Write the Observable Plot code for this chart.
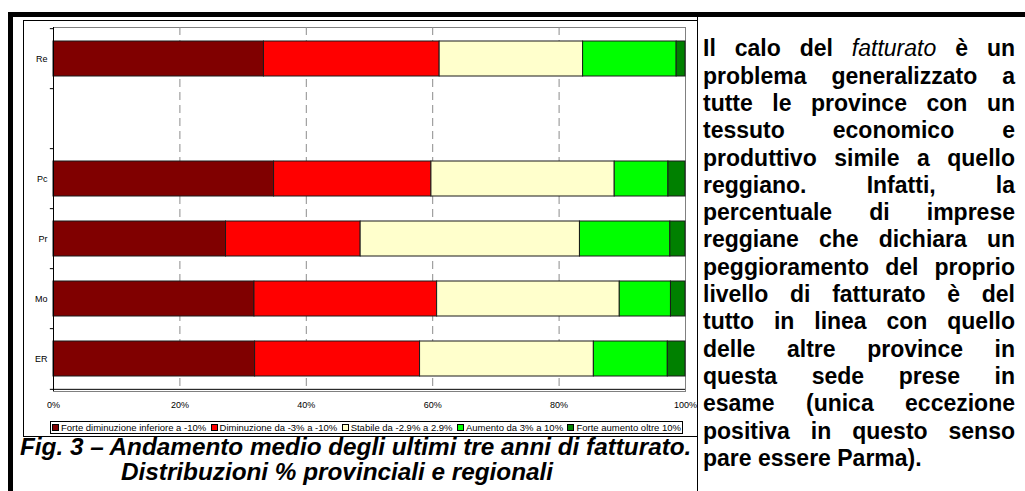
<!DOCTYPE html>
<html>
<head>
<meta charset="utf-8">
<script src="https://cdn.jsdelivr.net/npm/d3@7"></script>
<script src="https://cdn.jsdelivr.net/npm/@observablehq/plot@0.6"></script>
<style>
  html, body { margin: 0; padding: 0; background: #fff; }
  body { width: 1025px; height: 491px; position: relative; overflow: hidden;
         font-family: "Liberation Sans", Arial, sans-serif; color: #000; }
  #topbar { position: absolute; left: 8px; top: 12px; width: 1017px; height: 5px; background: #000; }
  #leftbar { position: absolute; left: 8px; top: 12px; width: 5px; height: 479px; background: #000; }
  #cellline { position: absolute; left: 697px; top: 17px; width: 1px; height: 474px; background: #000; }
  #frame { position: absolute; left: 23px; top: 20px; width: 673px; height: 415px; border: 1px solid #000; }
  #chart { position: absolute; left: 23px; top: 20px; }
  #chart svg { overflow: visible; }
  #legend { position: absolute; left: 50px; top: 421px; width: 629px; height: 11px; border: 1px solid #000;
            display: flex; justify-content: space-between; align-items: center; padding: 0 1px;
            font-size: 9.5px; line-height: 11px; white-space: nowrap; }
  #legend .item { display: flex; align-items: center; }
  #legend .sw { width: 5px; height: 5px; border: 1px solid #000; margin-right: 2px; }
  .cap { position: absolute; font-weight: bold; font-style: italic; font-size: 24.3px; line-height: 24px; white-space: nowrap; }
  #text { position: absolute; left: 703px; top: 35.4px; width: 312px; font-weight: bold; font-size: 23px; line-height: 27.3px; }
  #text div { text-align: justify; text-align-last: justify; white-space: nowrap; }
  #text div.last { text-align-last: left; }
  #text i { font-weight: normal; }
</style>
</head>
<body>
<div id="topbar"></div>
<div id="leftbar"></div>
<div id="cellline"></div>
<div id="frame"></div>
<div id="chart"></div>
<div id="legend"></div>
<div class="cap" id="cap1" style="left:20px; top:434.7px;"></div>
<div class="cap" id="cap2" style="left:121px; top:459.7px;"></div>
<div id="text"></div>
<script>
// ---- data ----
const provinces = ["Re", "Pc", "Pr", "Mo", "ER"];
const yCategories = ["Re", " ", "Pc", "Pr", "Mo", "ER"];
const series = [
  "Forte diminuzione inferiore a -10%",
  "Diminuzione da -3% a -10%",
  "Stabile da -2.9% a 2.9%",
  "Aumento da 3% a 10%",
  "Forte aumento oltre 10%"
];
const seriesColors = ["#800000", "#ff0000", "#ffffcc", "#00ff00", "#008000"];
const forteDiminuzione = [33.3, 34.9, 27.3, 31.8, 31.9];
const diminuzione      = [27.8, 24.9, 21.3, 28.9, 26.1];
const stabile          = [22.7, 29.0, 34.7, 28.9, 27.5];
const aumento          = [14.8, 8.5, 14.3, 8.1, 11.7];
const forteAumento     = [1.4, 2.7, 2.4, 2.3, 2.8];
const xTicks = [0, 20, 40, 60, 80, 100];
const xTickLabels = ["0%", "20%", "40%", "60%", "80%", "100%"];
const captionLines = [
  "Fig. 3 – Andamento medio degli ultimi tre anni di fatturato.",
  "Distribuzioni % provinciali e regionali"
];
const textLines = [
  'Il calo del <i>fatturato</i> è un',
  'problema generalizzato a',
  'tutte le province con un',
  'tessuto economico e',
  'produttivo simile a quello',
  'reggiano. Infatti, la',
  'percentuale di imprese',
  'reggiane che dichiara un',
  'peggioramento del proprio',
  'livello di fatturato è del',
  'tutto in linea con quello',
  'delle altre province in',
  'questa sede prese in',
  'esame (unica eccezione',
  'positiva in questo senso',
  'pare essere Parma).'
];

// ---- build table ----
const seriesValues = [forteDiminuzione, diminuzione, stabile, aumento, forteAumento];
const data = series.flatMap((s, i) => provinces.map((p, j) => ({province: p, series: s, value: seriesValues[i][j]})));

const W = 674, H = 400, mt = 7, mb = 29;
const step = (H - mt - mb) / yCategories.length;

const chart = Plot.plot({
  width: W, height: H,
  marginLeft: 30, marginRight: 12, marginTop: mt, marginBottom: mb,
  style: {fontFamily: "Liberation Sans, Arial, sans-serif", fontSize: "9px", color: "#000", background: "transparent", overflow: "visible"},
  x: {domain: [0, 100], label: null},
  y: {domain: yCategories, paddingInner: 0.41, paddingOuter: 0.205, label: null},
  color: {domain: series, range: seriesColors},
  marks: [
    Plot.frame({stroke: "#808080"}),
    Plot.ruleX(xTicks.slice(1, -1), {stroke: "#8c8c8c", strokeDasharray: "8,5"}),
    Plot.barX(data, {y: "province", x: "value", fill: "series", stroke: "#1a1a1a", strokeWidth: 1}),
    Plot.ruleX([0], {stroke: "#000"}),
    Plot.ruleY(yCategories, {y: d => d, dy: -step / 2, x1: -0.5, x2: 0, stroke: "#000"}),
    Plot.ruleY([yCategories[yCategories.length - 1]], {y: d => d, dy: step / 2, x1: -0.5, x2: 100, stroke: "#000"}),
    Plot.axisX({ticks: xTicks, tickFormat: (d) => xTickLabels[xTicks.indexOf(d)], tickSize: 0, tickPadding: 10, fill: "#000", label: null}),
    Plot.axisY({tickSize: 0, tickPadding: 6, fill: "#000", label: null})
  ]
});
document.getElementById("chart").appendChild(chart);

// legend
const legend = document.getElementById("legend");
series.forEach((s, i) => {
  const item = document.createElement("div");
  item.className = "item";
  const sw = document.createElement("div");
  sw.className = "sw";
  sw.style.background = seriesColors[i];
  const t = document.createElement("span");
  t.textContent = s;
  item.appendChild(sw); item.appendChild(t);
  legend.appendChild(item);
});

document.getElementById("cap1").textContent = captionLines[0];
document.getElementById("cap2").textContent = captionLines[1];

const textDiv = document.getElementById("text");
textLines.forEach((l, i) => {
  const d = document.createElement("div");
  d.innerHTML = l;
  if (i === textLines.length - 1) d.className = "last";
  textDiv.appendChild(d);
});
</script>
</body>
</html>
